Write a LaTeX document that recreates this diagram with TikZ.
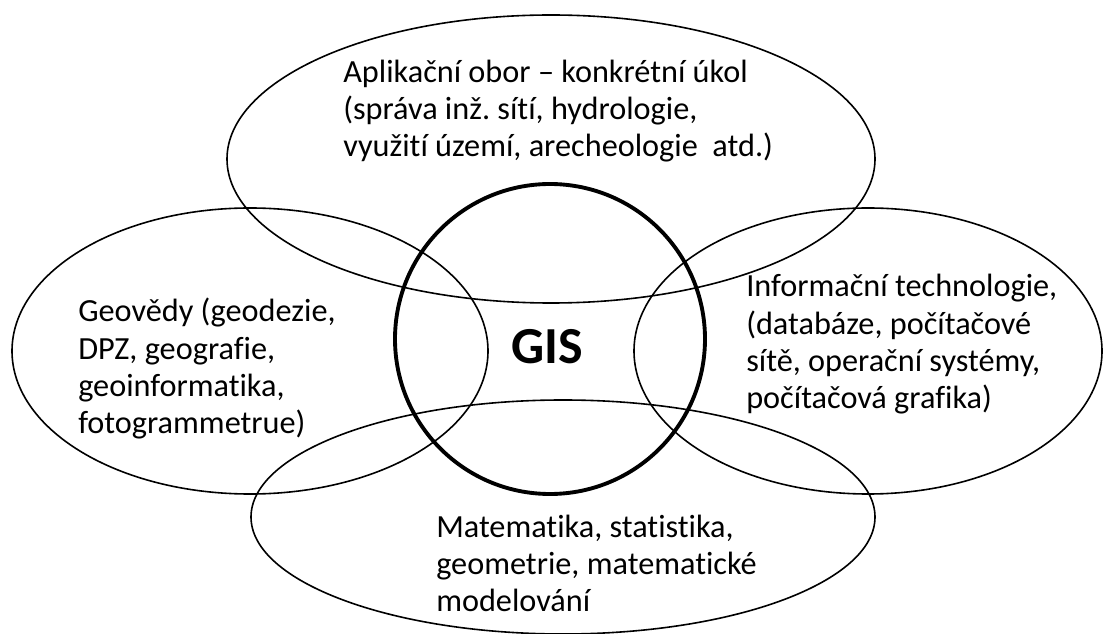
\documentclass[tikz,border=0pt]{standalone}
\usepackage{fontspec}
\setmainfont{Carlito}[Ligatures={NoCommon}]
\frenchspacing

\begin{document}
\begin{tikzpicture}[x=0.75pt,y=-0.75pt,
    oval/.style={line width=1.2pt},
    txt/.style={anchor=base west,inner sep=0pt,align=left,font=\fontsize{24.2}{28}\selectfont}]
    \useasboundingbox (0,0) rectangle (1104,634);

    \draw[oval] (551,159) ellipse [x radius=324,y radius=144];
    \draw[oval] (250,351) ellipse [x radius=238,y radius=143];
    \draw[oval] (868,351) ellipse [x radius=234,y radius=143];
    \draw[oval] (563,517) ellipse [x radius=312,y radius=117];
    \draw[line width=2.9pt] (550,339) circle [radius=155];

    % base anchor = baseline of the last line
    \node[txt] (aplikace) at (343,157) {Aplikační obor – konkrétní úkol\\(správa inž. sítí, hydrologie,\\využití území, arecheologie~ atd.)};
    \node[txt] (geovedy) at (78,434) {Geovědy (geodezie,\\DPZ, geografie,\\geoinformatika,\\fotogrammetrue)};
    \node[txt] (infotech) at (746,409) {Informační technologie,\\(databáze, počítačové\\sítě, operační systémy,\\počítačová grafika)};
    \node[txt] (matematika) at (436,612) {Matematika, statistika,\\geometrie, matematické\\modelování};
    \node[inner sep=0pt,font=\fontsize{39}{44}\selectfont\bfseries] (gis) at (547,347) {GIS};
\end{tikzpicture}
\end{document}
